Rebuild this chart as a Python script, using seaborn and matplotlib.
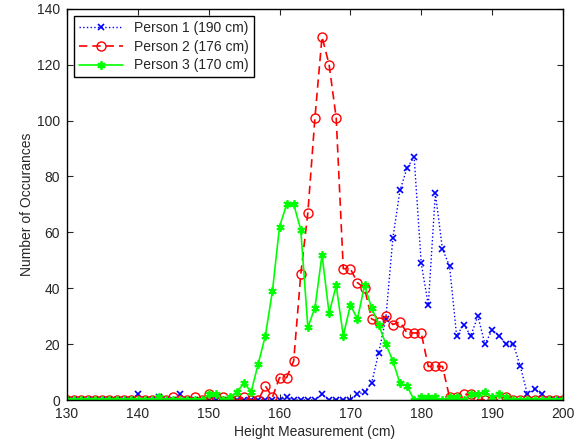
import numpy as np
import pandas as pd
import matplotlib
matplotlib.use("Agg")
import matplotlib.pyplot as plt
import seaborn as sns

heights = list(range(130, 201))

person1 = [0]*10 + [2, 0, 0, 1, 0, 0, 2] + [0]*14 + [1, 0, 0, 0, 0, 2, 0, 0, 0, 0,
           2, 3, 6, 17, 29, 58, 75, 83, 87, 49, 34, 74, 54, 48, 23, 27, 23, 30, 20, 25,
           23, 20, 20, 12, 2, 4, 2, 0, 0, 0]
person2 = [0]*15 + [1, 0, 0, 1, 0, 2, 1, 1, 0, 0, 1, 0, 0, 5, 1, 8, 8, 14, 45, 67,
           101, 130, 120, 101, 47, 47, 42, 40, 29, 28, 30, 27, 28, 24, 24, 24, 12, 12, 12,
           1, 1, 2, 2, 0, 0, 0, 0, 1] + [0]*8
person3 = [0]*13 + [1, 0, 0, 0, 0, 0, 0, 2, 2, 0, 1, 3, 6, 3, 13, 23, 39, 62, 70, 70,
           61, 26, 33, 52, 31, 41, 23, 34, 29, 41, 33, 27, 20, 14, 6, 5, 0, 1, 1, 1, 0,
           1, 1, 0, 2, 2, 3, 1, 2, 1] + [0]*8

labels = ["Person 1 (190 cm)", "Person 2 (176 cm)", "Person 3 (170 cm)"]
series = [person1, person2, person3]

sns.set_style("ticks")
plt.rcParams["font.family"] = ["Liberation Sans", "DejaVu Sans"]
plt.rcParams["font.size"] = 10

fig = plt.figure(figsize=(5.8, 4.42), dpi=100)
ax = fig.add_axes([0.1155, 0.095, 0.855, 0.885])

styles = [
    dict(color=(0, 0, 1), linestyle=":", marker="x", markersize=4, markeredgewidth=1.2,
         lw=1.0),
    dict(color=(1, 0, 0), dashes=(5, 3), marker="o", markersize=6.5, markerfacecolor="none",
         markeredgewidth=1.0, lw=1.2),
    dict(color=(0, 1, 0), linestyle="-", marker=(6, 2, 0), markersize=6, markeredgewidth=1.3,
         lw=1.2),
]

for vals, lab, st in zip(series, labels, styles):
    df = pd.DataFrame({"height": heights, "count": vals})
    kw = dict(st)
    color = kw.pop("color")
    sns.lineplot(data=df, x="height", y="count", ax=ax, color=color,
                 markeredgecolor=color, label=lab, **kw)

ax.set_xlim(130, 200)
ax.set_ylim(0, 140)
ax.set_xticks(range(130, 201, 10))
ax.set_yticks(range(0, 141, 20))
ax.set_xlabel("Height Measurement (cm)", fontsize=10, labelpad=3)
ax.set_ylabel("Number of Occurances", fontsize=10, labelpad=2)
ax.tick_params(direction="in", top=True, right=True, length=4, width=0.8, labelsize=10)
ax.tick_params(axis="x", pad=5)
ax.tick_params(axis="y", pad=5)
for s in ax.spines.values():
    s.set_visible(True)
    s.set_color("black")
    s.set_linewidth(1.0)

leg = ax.legend(loc="upper left", frameon=True, fancybox=False, framealpha=1,
                edgecolor="black", fontsize=10, handlelength=3.2, borderpad=0.35,
                labelspacing=0.35, borderaxespad=0.5)
leg.get_frame().set_linewidth(1.0)

fig.savefig("out.png", dpi=100)
